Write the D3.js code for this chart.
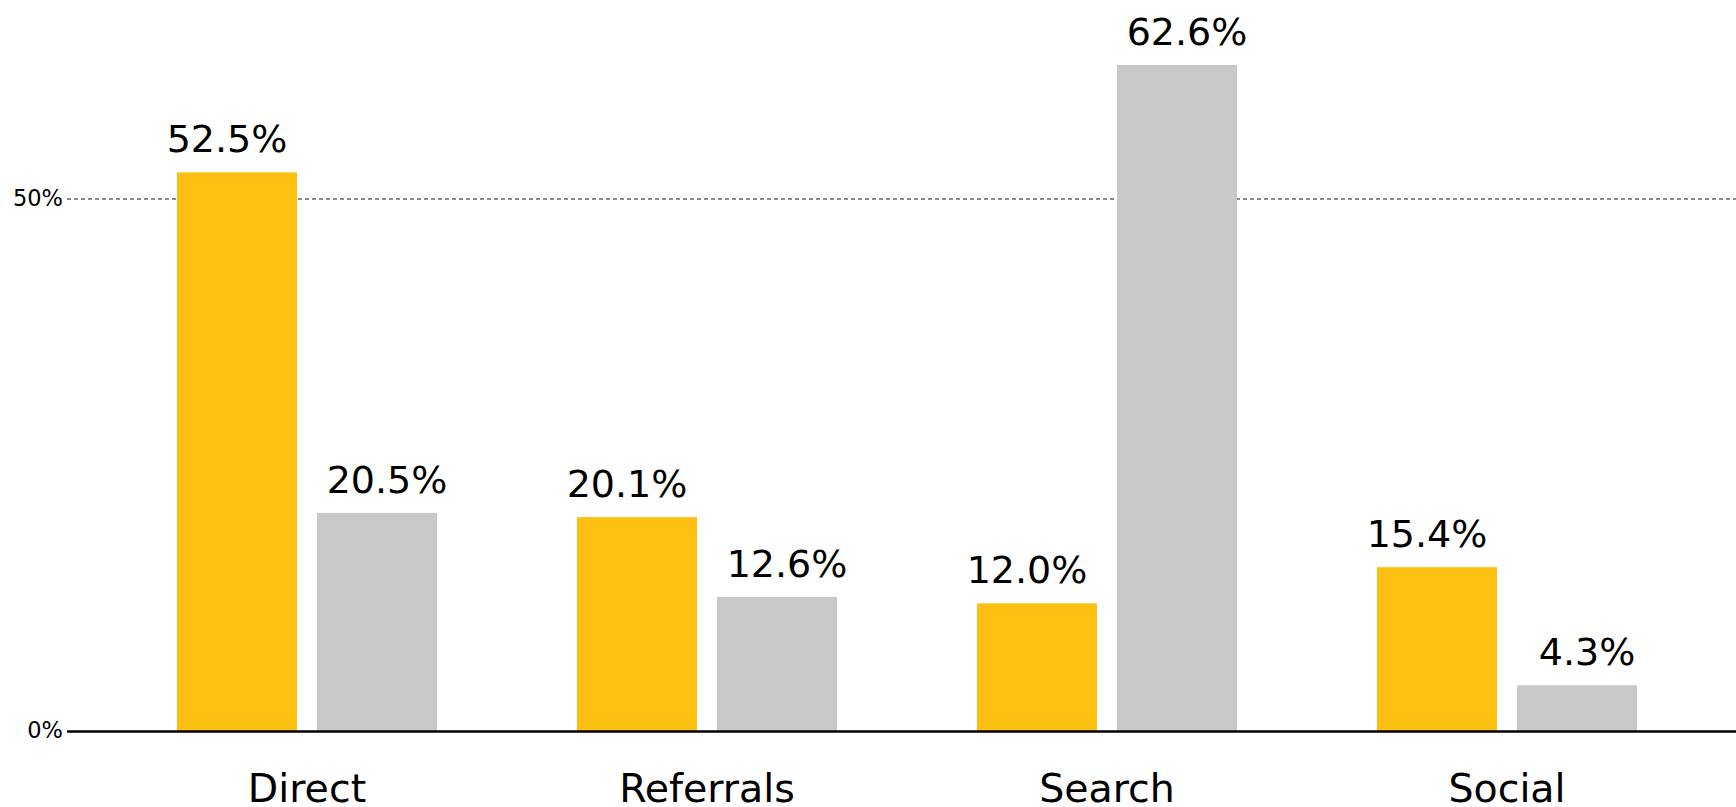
<!DOCTYPE html>
<html>
<head>
<meta charset="utf-8">
<script src="https://cdn.jsdelivr.net/npm/d3@7"></script>
<style>
  body { margin: 0; background: #fff; }
  svg text { font-family: "DejaVu Sans", Verdana, sans-serif; fill: #000; }
</style>
</head>
<body>
<div id="chart"></div>
<script>
//Chart data
const categories = ["Direct", "Referrals", "Search", "Social"];
const seriesNames = ["first", "second"];
const firstValues = [52.5, 20.1, 12.0, 15.4];
const secondValues = [20.5, 12.6, 62.6, 4.3];
const tickValues = [0, 50];
const barColors = ["#fdc012", "#c8c8c8"];

//Dimensions
const width = 1736, height = 807;
const axisLeft = 67, baseY = 731, fiftyY = 199;

const svg = d3.select("#chart")
    .append("svg")
    .attr("width", width)
    .attr("height", height);

//X scales
const x0 = d3.scaleBand()
    .domain(categories)
    .range([107, 1707])
    .padding(0);
const x1 = d3.scaleBand()
    .domain(seriesNames)
    .range([70, 330])
    .paddingInner(1 / 7)
    .paddingOuter(0);

//Y scale
const y = d3.scaleLinear()
    .domain([0, 50])
    .range([baseY, fiftyY]);

//Gridline at 50%
svg.append("line")
    .attr("x1", axisLeft)
    .attr("x2", width)
    .attr("y1", y(50))
    .attr("y2", y(50))
    .attr("stroke", "#666")
    .attr("stroke-width", 1.5)
    .attr("stroke-dasharray", "4,3");

//Tick labels
svg.selectAll(".tick-label")
    .data(tickValues)
    .join("text")
    .attr("class", "tick-label")
    .attr("x", 63)
    .attr("y", d => y(d) + 7)
    .attr("text-anchor", "end")
    .style("font-size", "22.5px")
    .text(d => d + "%");

//Rows of bars
const rows = categories.map((c, i) => ({
    category: c,
    values: [
        {key: "first", value: firstValues[i]},
        {key: "second", value: secondValues[i]}
    ]
}));

const groups = svg.selectAll(".group")
    .data(rows)
    .join("g")
    .attr("class", "group")
    .attr("transform", d => `translate(${x0(d.category)}, 0)`);

groups.selectAll("rect")
    .data(d => d.values)
    .join("rect")
    .attr("x", d => x1(d.key))
    .attr("y", d => y(d.value))
    .attr("width", x1.bandwidth())
    .attr("height", d => y(0) - y(d.value))
    .attr("fill", (d, i) => barColors[i]);

//Value labels
groups.selectAll(".value-label")
    .data(d => d.values)
    .join("text")
    .attr("class", "value-label")
    .attr("x", (d, i) => x1(d.key) + x1.bandwidth() / 2 + (i === 0 ? -10 : 10))
    .attr("y", d => y(d.value) - 20)
    .attr("text-anchor", "middle")
    .style("font-size", "38px")
    .text(d => d.value.toFixed(1) + "%");

//Baseline
svg.append("line")
    .attr("x1", axisLeft)
    .attr("x2", width)
    .attr("y1", y(0) + 0.5)
    .attr("y2", y(0) + 0.5)
    .attr("stroke", "#000")
    .attr("stroke-width", 2.5);

//Category labels
const xAxis = svg.append("g")
    .attr("transform", `translate(0, ${baseY})`)
    .call(d3.axisBottom(x0).tickSize(0).tickPadding(0));
xAxis.select(".domain").remove();
xAxis.selectAll("text")
    .attr("dy", null)
    .attr("y", 71)
    .style("font-size", "39.5px")
    .style("font-family", "\"DejaVu Sans\", Verdana, sans-serif")
    .attr("fill", "#000");
</script>
</body>
</html>
